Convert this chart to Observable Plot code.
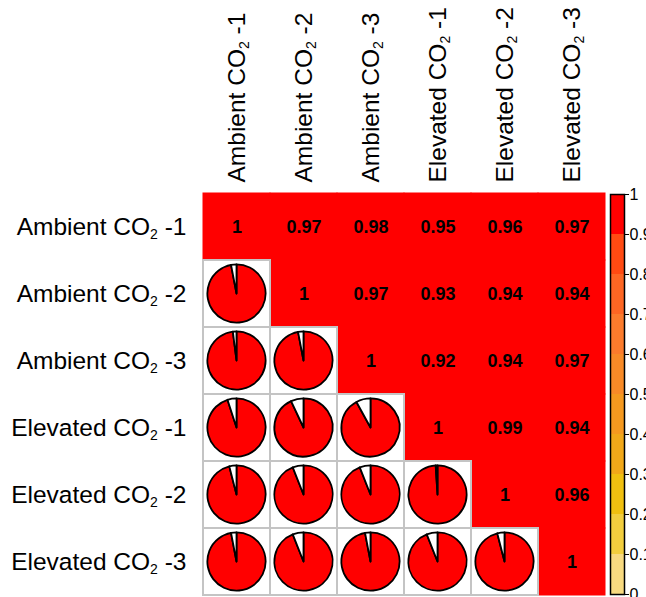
<!DOCTYPE html>
<html>
<head>
<meta charset="utf-8">
<script src="https://cdn.jsdelivr.net/npm/d3@7"></script>
<script src="https://cdn.jsdelivr.net/npm/@observablehq/plot@0.6"></script>
<style>
  html, body { margin: 0; padding: 0; background: white; overflow: hidden; }
  #wrap { position: relative; width: 646px; height: 597px; }
  #wrap svg { display: block; }
  #cbar { position: absolute; left: 605px; top: 0; }
</style>
</head>
<body>
<div id="wrap"><div id="main"></div><div id="cbar"></div></div>
<script>
// ---- data ----
const categories = ["Ambient CO₂ -1", "Ambient CO₂ -2", "Ambient CO₂ -3", "Elevated CO₂ -1", "Elevated CO₂ -2", "Elevated CO₂ -3"];
const row1 = [1.00, 0.97, 0.98, 0.95, 0.96, 0.97];
const row2 = [0.97, 1.00, 0.97, 0.93, 0.94, 0.94];
const row3 = [0.98, 0.97, 1.00, 0.92, 0.94, 0.97];
const row4 = [0.95, 0.93, 0.92, 1.00, 0.99, 0.94];
const row5 = [0.96, 0.94, 0.94, 0.99, 1.00, 0.96];
const row6 = [0.97, 0.94, 0.97, 0.94, 0.96, 1.00];
const corrRows = [row1, row2, row3, row4, row5, row6];
const colorBreaks = [0.1, 0.2, 0.3, 0.4, 0.5, 0.6, 0.7, 0.8, 0.9];
const palette = ["#F8DA80", "#F2CE3E", "#F0C010", "#F1A819", "#F5991F", "#F88A27", "#FB7B2C", "#FD6623", "#FF4A12", "#FF0000"];
const colorbarTicks = [0, 0.1, 0.2, 0.3, 0.4, 0.5, 0.6, 0.7, 0.8, 0.9, 1];

// ---- tables ----
const cellsUpper = [], cellsLower = [];
corrRows.forEach((vals, i) => vals.forEach((v, j) => {
  const d = {row: categories[i], col: categories[j], value: v};
  (j >= i ? cellsUpper : cellsLower).push(d);
}));
const fmt = d3.format("~g");
const colorFallback = d3.scaleThreshold().domain(colorBreaks).range(palette);
const font = "'Liberation Sans', Arial, Helvetica, sans-serif";

function pies(index, scales, values, dimensions) {
  const n = categories.length;
  const bw = scales.x.bandwidth ? scales.x.bandwidth() : (dimensions.width - dimensions.marginLeft - dimensions.marginRight) / n;
  const bh = scales.y.bandwidth ? scales.y.bandwidth() : (dimensions.height - dimensions.marginTop - dimensions.marginBottom) / n;
  const r = 0.435 * Math.min(bw, bh);
  const arc = d3.arc().innerRadius(0).outerRadius(r);
  const color = scales.color || colorFallback;
  const g = d3.create("svg:g");
  for (const d of cellsLower) {
    const cx = scales.x(d.col) + bw / 2, cy = scales.y(d.row) + bh / 2;
    const a = 2 * Math.PI * d.value;
    const gg = g.append("g").attr("transform", `translate(${cx},${cy})`);
    gg.append("path").attr("d", arc({startAngle: 0, endAngle: a}))
      .attr("fill", color(d.value)).attr("stroke", "black").attr("stroke-width", 1.8).attr("stroke-linejoin", "round");
    gg.append("path").attr("d", arc({startAngle: a, endAngle: 2 * Math.PI}))
      .attr("fill", "white").attr("stroke", "black").attr("stroke-width", 1.8).attr("stroke-linejoin", "round");
  }
  return g.node();
}

const main = Plot.plot({
  width: 646, height: 597,
  marginLeft: 202, marginRight: 41, marginTop: 193, marginBottom: 2,
  style: {fontFamily: font, fontSize: "24.5px", background: "white", color: "black"},
  x: {domain: categories, padding: 0, axis: "top", tickRotate: -90, tickSize: 0, tickPadding: 11, label: null},
  y: {domain: categories, padding: 0, axis: "left", tickSize: 0, tickPadding: 16, label: null},
  color: {type: "threshold", domain: colorBreaks, range: palette},
  marks: [
    Plot.cell(cellsUpper, {x: "col", y: "row", fill: "value", stroke: "value", strokeWidth: 1}),
    Plot.cell(cellsLower, {x: "col", y: "row", fill: "white", stroke: "#C4C4C4", strokeWidth: 2}),
    Plot.text(cellsUpper, {x: "col", y: "row", text: d => fmt(d.value), fontWeight: "bold", fontSize: 18, fill: "black"}),
    pies
  ]
});

// subscript 2 in CO₂ labels (kept as real text)
for (const t of main.querySelectorAll("text")) {
  const s = t.textContent;
  const i = s.indexOf("₂");
  if (i < 0) continue;
  while (t.firstChild) t.removeChild(t.firstChild);
  const ns = "http://www.w3.org/2000/svg";
  const a = document.createElementNS(ns, "tspan"); a.textContent = s.slice(0, i);
  const b = document.createElementNS(ns, "tspan"); b.textContent = "2"; b.setAttribute("font-size", "14px"); b.setAttribute("dy", "4");
  const c = document.createElementNS(ns, "tspan"); c.textContent = s.slice(i + 1); c.setAttribute("dy", "-4");
  t.append(a, b, c);
}
document.getElementById("main").append(main);

// ---- colour bar ----
const bins = palette.map((c, k) => ({lo: k / palette.length, hi: (k + 1) / palette.length, mid: (k + 0.5) / palette.length}));
const cbar = Plot.plot({
  width: 41, height: 597,
  marginLeft: 5, marginRight: 22, marginTop: 194, marginBottom: 3,
  style: {fontFamily: font, fontSize: "16px", background: "transparent", color: "black"},
  x: {domain: [0, 1], axis: null},
  y: {domain: [0, 1], axis: "right", ticks: colorbarTicks, tickFormat: fmt, tickSize: 4, tickPadding: 1, label: null},
  color: {type: "threshold", domain: colorBreaks, range: palette},
  marks: [
    Plot.rect(bins, {x1: 0, x2: 1, y1: "lo", y2: "hi", fill: "mid"}),
    Plot.frame({stroke: "black", strokeWidth: 1.5})
  ]
});
document.getElementById("cbar").append(cbar);
</script>
</body>
</html>
